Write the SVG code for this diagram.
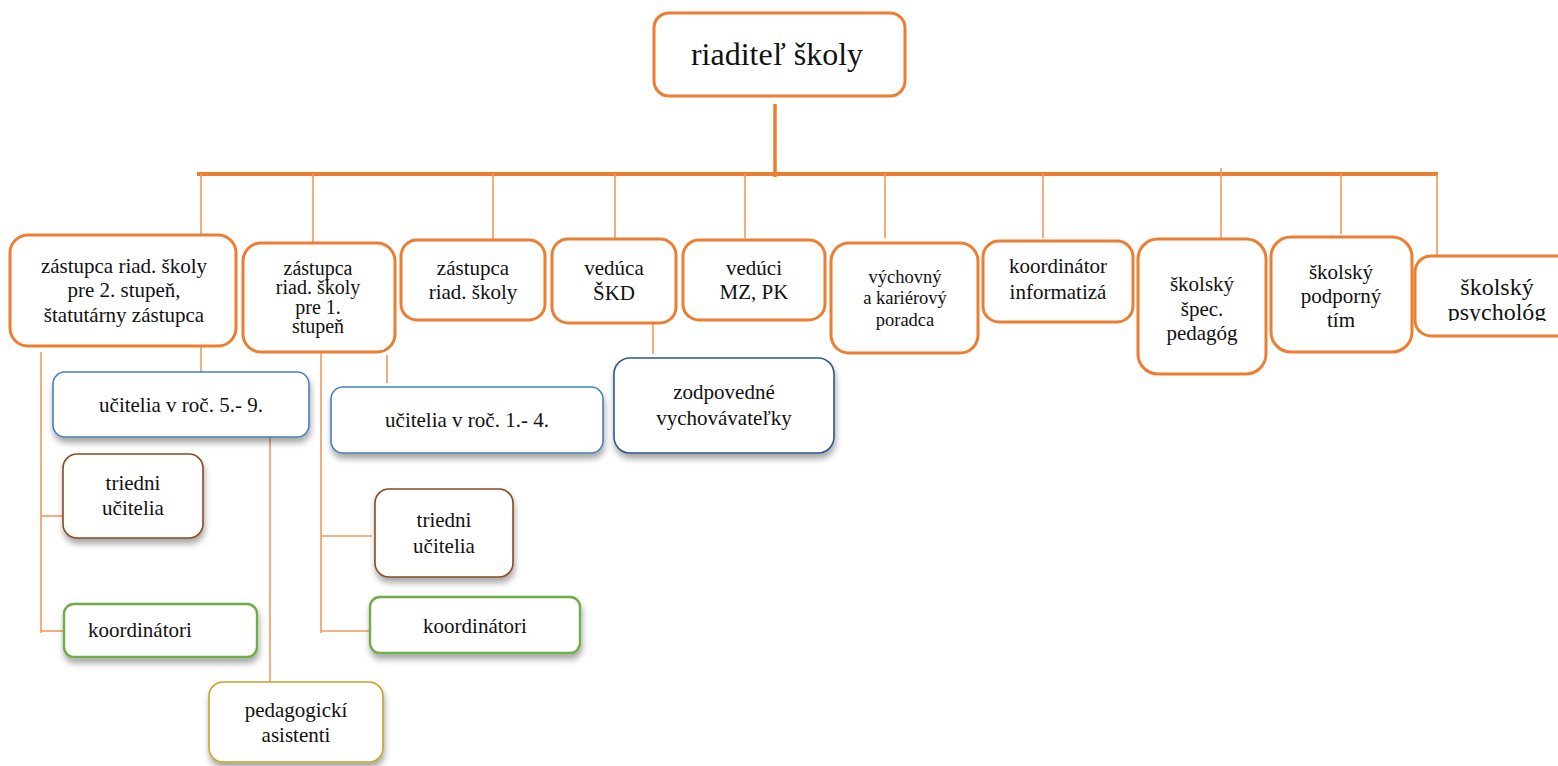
<svg xmlns="http://www.w3.org/2000/svg" width="1558" height="766" viewBox="0 0 1558 766">
<style>
.o{fill:#fff;stroke:#ED7D31;stroke-width:3}
.b{fill:#fff;stroke:#4A7EBB;stroke-width:1.6}
.bd{fill:#fff;stroke:#2F5597;stroke-width:1.6}
.br{fill:#fff;stroke:#8B4A1E;stroke-width:1.6}
.g{fill:#fff;stroke:#70AD47;stroke-width:2.4}
.y{fill:#fff;stroke:#C9A227;stroke-width:1.6}
.thin{stroke:#F19A5E;stroke-width:1.6;fill:none}
.thick{stroke:#ED7D31;fill:none}
</style>
<defs>
<filter id="sh" x="-10%" y="-10%" width="125%" height="140%">
<feDropShadow dx="1" dy="5" stdDeviation="3" flood-color="#000" flood-opacity="0.35"/>
</filter>
<clipPath id="c10"><rect x="1400" y="250" width="170" height="71"/></clipPath>
</defs>
<rect width="1558" height="766" fill="#fff"/>
<g id="connectors">
<line class="thick" x1="775" y1="104" x2="775" y2="177" stroke-width="3.5"/>
<line class="thick" x1="197" y1="174" x2="1438" y2="174" stroke-width="4"/>
<line class="thin" x1="201" y1="174" x2="201" y2="237"/>
<line class="thin" x1="313" y1="174" x2="313" y2="242"/>
<line class="thin" x1="493" y1="174" x2="493" y2="240"/>
<line class="thin" x1="615" y1="174" x2="615" y2="240"/>
<line class="thin" x1="745" y1="174" x2="745" y2="238"/>
<line class="thin" x1="885" y1="174" x2="885" y2="238"/>
<line class="thin" x1="1043" y1="174" x2="1043" y2="238"/>
<line class="thin" x1="1221" y1="168" x2="1221" y2="240"/>
<line class="thin" x1="1341" y1="174" x2="1341" y2="234"/>
<line class="thin" x1="1437" y1="174" x2="1437" y2="256"/>
<line class="thin" x1="201" y1="343" x2="201" y2="377"/>
<polyline class="thin" points="41,352 41,633"/>
<line class="thin" x1="41" y1="516" x2="63" y2="516"/>
<line class="thin" x1="41" y1="631" x2="64" y2="631"/>
<line class="thin" x1="270" y1="437" x2="270" y2="682"/>
<polyline class="thin" points="321,353 321,633"/>
<line class="thin" x1="321" y1="536" x2="372" y2="536"/>
<line class="thin" x1="321" y1="631" x2="370" y2="631"/>
<line class="thin" x1="387" y1="355" x2="387" y2="383"/>
<line class="thin" x1="653" y1="323" x2="653" y2="354"/>
</g>
<g id="nodes" font-family="Liberation Serif" font-size="21" fill="#111" text-anchor="middle">
<g id="riaditel">
<rect class="o" x="654" y="13" width="251" height="83" rx="15" stroke-width="3.5"/>
<text x="777" y="65" font-size="32">riaditeľ školy</text>
</g>
<g id="zastupca2">
<rect class="o" x="10" y="235" width="226" height="111" rx="18"/>
<text x="124" y="273">zástupca riad. školy</text>
<text x="124" y="297">pre 2. stupeň,</text>
<text x="124" y="322">štatutárny zástupca</text>
</g>
<g id="zastupca1" font-size="20">
<rect class="o" x="243" y="243" width="152" height="109" rx="18"/>
<text x="318" y="275">zástupca</text>
<text x="318" y="294">riad. školy</text>
<text x="318" y="314">pre 1.</text>
<text x="318" y="333">stupeň</text>
</g>
<g id="zastupca">
<rect class="o" x="401" y="240" width="144" height="80" rx="16"/>
<text x="473" y="275">zástupca</text>
<text x="473" y="299">riad. školy</text>
</g>
<g id="veduca">
<rect class="o" x="552" y="239" width="124" height="84" rx="16"/>
<text x="614" y="275">vedúca</text>
<text x="614" y="300">ŠKD</text>
</g>
<g id="veduci">
<rect class="o" x="683" y="240" width="142" height="80" rx="16"/>
<text x="754" y="275">vedúci</text>
<text x="754" y="299">MZ, PK</text>
</g>
<g id="vychovny" font-size="18.5">
<rect class="o" x="831" y="243" width="147" height="110" rx="18"/>
<text x="905" y="283">výchovný</text>
<text x="905" y="304">a kariérový</text>
<text x="905" y="326">poradca</text>
</g>
<g id="koordinator">
<rect class="o" x="983" y="241" width="150" height="81" rx="16"/>
<text x="1058" y="273">koordinátor</text>
<text x="1058" y="299">informatizá</text>
</g>
<g id="specped">
<rect class="o" x="1138" y="239" width="128" height="135" rx="20"/>
<text x="1202" y="291">školský</text>
<text x="1202" y="316">špec.</text>
<text x="1202" y="340">pedagóg</text>
</g>
<g id="podporny">
<rect class="o" x="1271" y="237" width="141" height="115" rx="20"/>
<text x="1341" y="279">školský</text>
<text x="1341" y="303">podporný</text>
<text x="1341" y="327">tím</text>
</g>
<g id="psycholog" font-size="24">
<rect class="o" x="1415" y="256" width="160" height="80" rx="16"/>
<g clip-path="url(#c10)">
<text x="1497" y="295">školský</text>
<text x="1497" y="320">psychológ</text>
</g>
</g>
<g id="ucitelia59">
<rect class="b" x="53" y="372" width="256" height="65" rx="12" filter="url(#sh)"/>
<text x="181" y="412">učitelia v roč. 5.- 9.</text>
</g>
<g id="ucitelia14">
<rect class="b" x="331" y="387" width="272" height="66" rx="12" filter="url(#sh)"/>
<text x="467" y="427">učitelia v roč. 1.- 4.</text>
</g>
<g id="vychovavatelky">
<rect class="bd" x="614" y="358" width="220" height="95" rx="16" filter="url(#sh)"/>
<text x="724" y="399">zodpovedné</text>
<text x="724" y="425">vychovávateľky</text>
</g>
<g id="triedni1">
<rect class="br" x="63" y="454" width="140" height="84" rx="14" filter="url(#sh)"/>
<text x="133" y="490">triedni</text>
<text x="133" y="515">učitelia</text>
</g>
<g id="triedni2">
<rect class="br" x="375" y="489" width="138" height="88" rx="14" filter="url(#sh)"/>
<text x="444" y="527">triedni</text>
<text x="444" y="553">učitelia</text>
</g>
<g id="koordinatori1">
<rect class="g" x="64" y="604" width="193" height="53" rx="10" filter="url(#sh)"/>
<text x="88" y="637" text-anchor="start">koordinátori</text>
</g>
<g id="koordinatori2">
<rect class="g" x="370" y="597" width="210" height="56" rx="10" filter="url(#sh)"/>
<text x="475" y="633">koordinátori</text>
</g>
<g id="asistenti">
<rect class="y" x="209" y="682" width="174" height="80" rx="14" filter="url(#sh)"/>
<text x="296" y="717">pedagogickí</text>
<text x="296" y="742">asistenti</text>
</g>
</g>
</svg>
